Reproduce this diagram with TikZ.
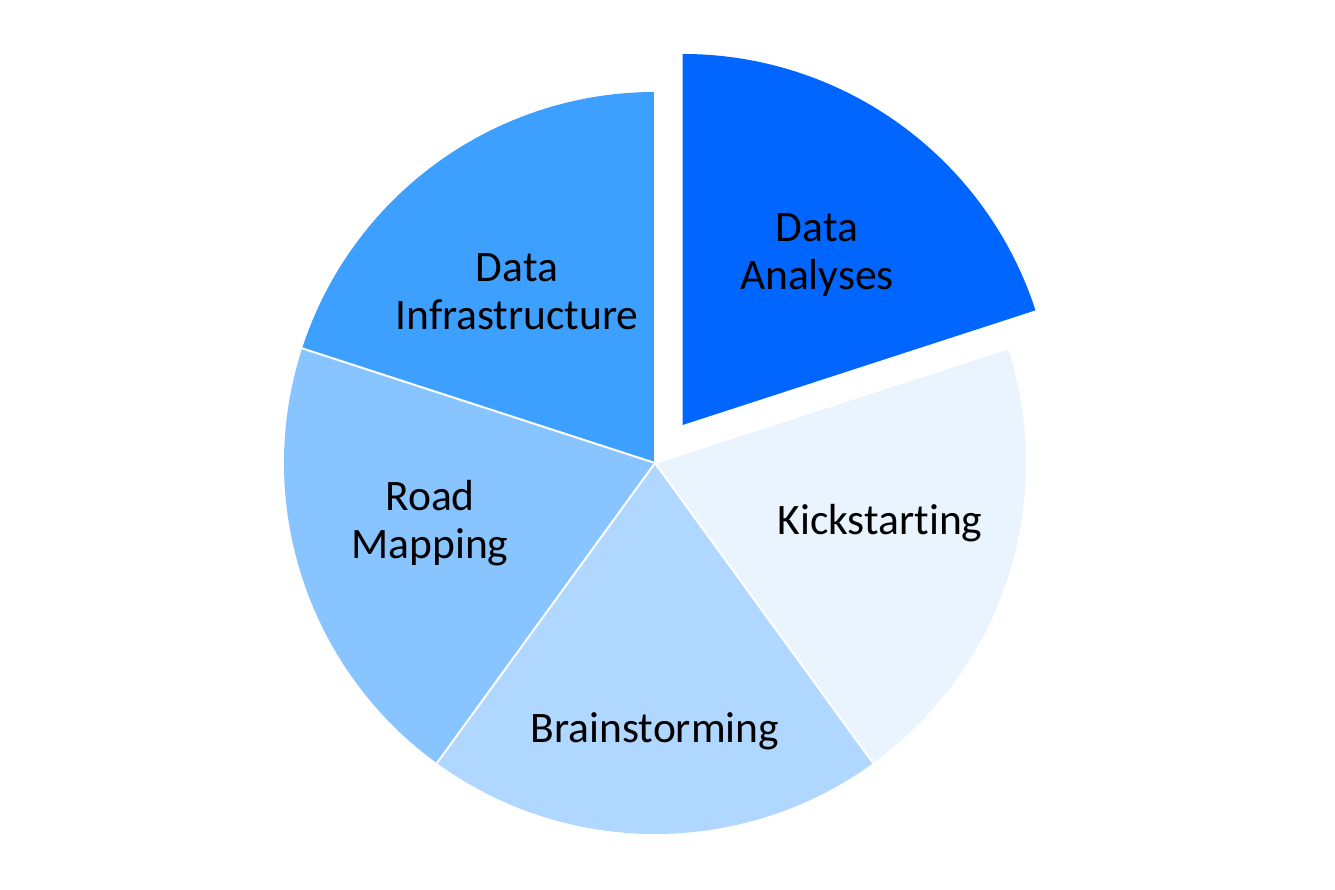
\documentclass[tikz,border=0pt]{standalone}
\usepackage{fontspec}
\setmainfont[Ligatures=NoCommon]{Carlito}
\usetikzlibrary{calc}
\definecolor{cA}{HTML}{0066FF}
\definecolor{cK}{HTML}{EAF4FF}
\definecolor{cB}{HTML}{B0D7FF}
\definecolor{cR}{HTML}{88C4FF}
\definecolor{cI}{HTML}{3DA0FF}
\tikzset{
  slice/.style={draw=white, line width=2pt, line join=miter},
  lbl/.style={align=center, font=\fontsize{43.5}{48}\selectfont, text=black, inner sep=0pt}
}
\begin{document}
\begin{tikzpicture}[x=1pt,y=1pt]
\useasboundingbox (0,0) rectangle (1335,889);
\coordinate (O) at (655,426);
\coordinate (E) at ($(O)+(54:47)$);
\def\R{371}
% slices
\fill[cI] (O) -- ++(162:\R) arc[start angle=162,end angle=90,radius=\R] -- cycle;
\fill[cR] (O) -- ++(234:\R) arc[start angle=234,end angle=162,radius=\R] -- cycle;
\fill[cB] (O) -- ++(306:\R) arc[start angle=306,end angle=234,radius=\R] -- cycle;
\fill[cK] (O) -- ++(18:\R) arc[start angle=18,end angle=-54,radius=\R] -- cycle;
\draw[slice] (O) -- ++(162:\R);
\draw[slice] (O) -- ++(234:\R);
\draw[slice] (O) -- ++(306:\R);
\draw[slice] (O) -- ++(18:\R);
\draw[slice] (O) -- ++(90:\R);
\fill[cA] (E) -- ++(90:\R) arc[start angle=90,end angle=18,radius=\R] -- cycle;
% labels
\node[lbl] (da) at (817,634) {Data\\Analyses};
\node[lbl] (di) at (517,597) {Data\\Infrastructure};
\node[lbl] (rm) at (430,366) {Road\\Mapping};
\node[lbl] (bs) at (655,158) {Brainstorming};
\node[lbl] (ks) at (880,366) {Kickstarting};
\end{tikzpicture}
\end{document}
